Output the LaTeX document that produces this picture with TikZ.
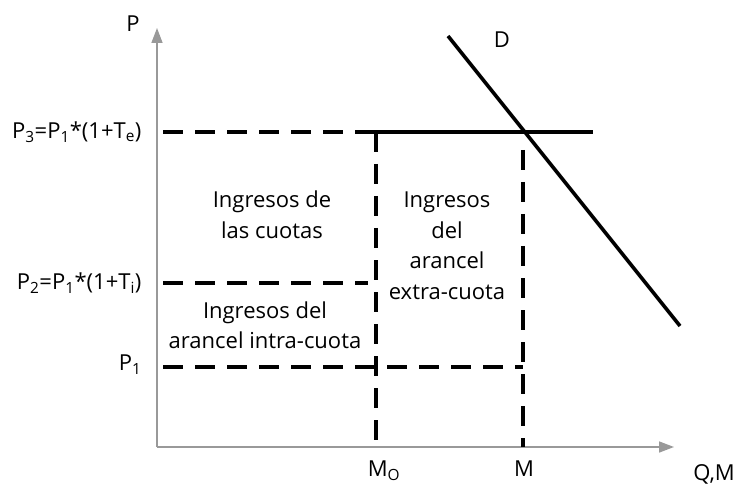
\documentclass[tikz,border=0pt]{standalone}
\usepackage{fontspec}
\setmainfont{Open Sans}
\usetikzlibrary{arrows.meta}
\tikzset{
  eje/.style={black!40,line width=1.6pt,-{Triangle[length=15pt,width=11pt]}},
  guia/.style={line width=3.6pt,dash pattern=on 20pt off 12pt},
  curva/.style={line width=3.6pt},
  texto/.style={align=center,inner sep=0pt}
}
\begin{document}
\begin{tikzpicture}[x=1pt,y=-1pt,font=\fontsize{22}{30.5}\selectfont]
\useasboundingbox (0,0) rectangle (739,489);

% ejes
\coordinate (O) at (157,447);
\draw[eje] (O) -- (157,28);
\draw[eje] (O) -- (674,447);
\node (P) at (133,24) {P};
\node (QM) at (714,474) {Q,M};

% precios
\draw[guia] (163,132) -- (356,132);
\draw[curva] (356,132) -- (593,132);
\draw[guia] (163,283) -- (368,283);
\draw[guia] (163,367) -- (523,367);
\draw[guia] (376,132) -- (376,447);
\draw[guia] (523,150) -- (523,447);

% demanda
\draw[curva] (448,36) -- (680,326);
\node (D) at (502,40) {D};

% etiquetas
\node[anchor=east] (P3) at (145,132) {P\textsubscript{3}=P\textsubscript{1}*(1+T\textsubscript{e})};
\node[anchor=east] (P2) at (145,283) {P\textsubscript{2}=P\textsubscript{1}*(1+T\textsubscript{i})};
\node[anchor=east] (P1) at (145,365) {P\textsubscript{1}};
\node (MO) at (384,471) {M\textsubscript{O}};
\node (M) at (524,469) {M};

\node[texto] (cuotas) at (272,215) {Ingresos de\\las cuotas};
\node[texto] (extra) at (447,246) {Ingresos\\del\\arancel\\extra-cuota};
\node[texto] (intra) at (265,325) {Ingresos del\\arancel intra-cuota};
\end{tikzpicture}
\end{document}
